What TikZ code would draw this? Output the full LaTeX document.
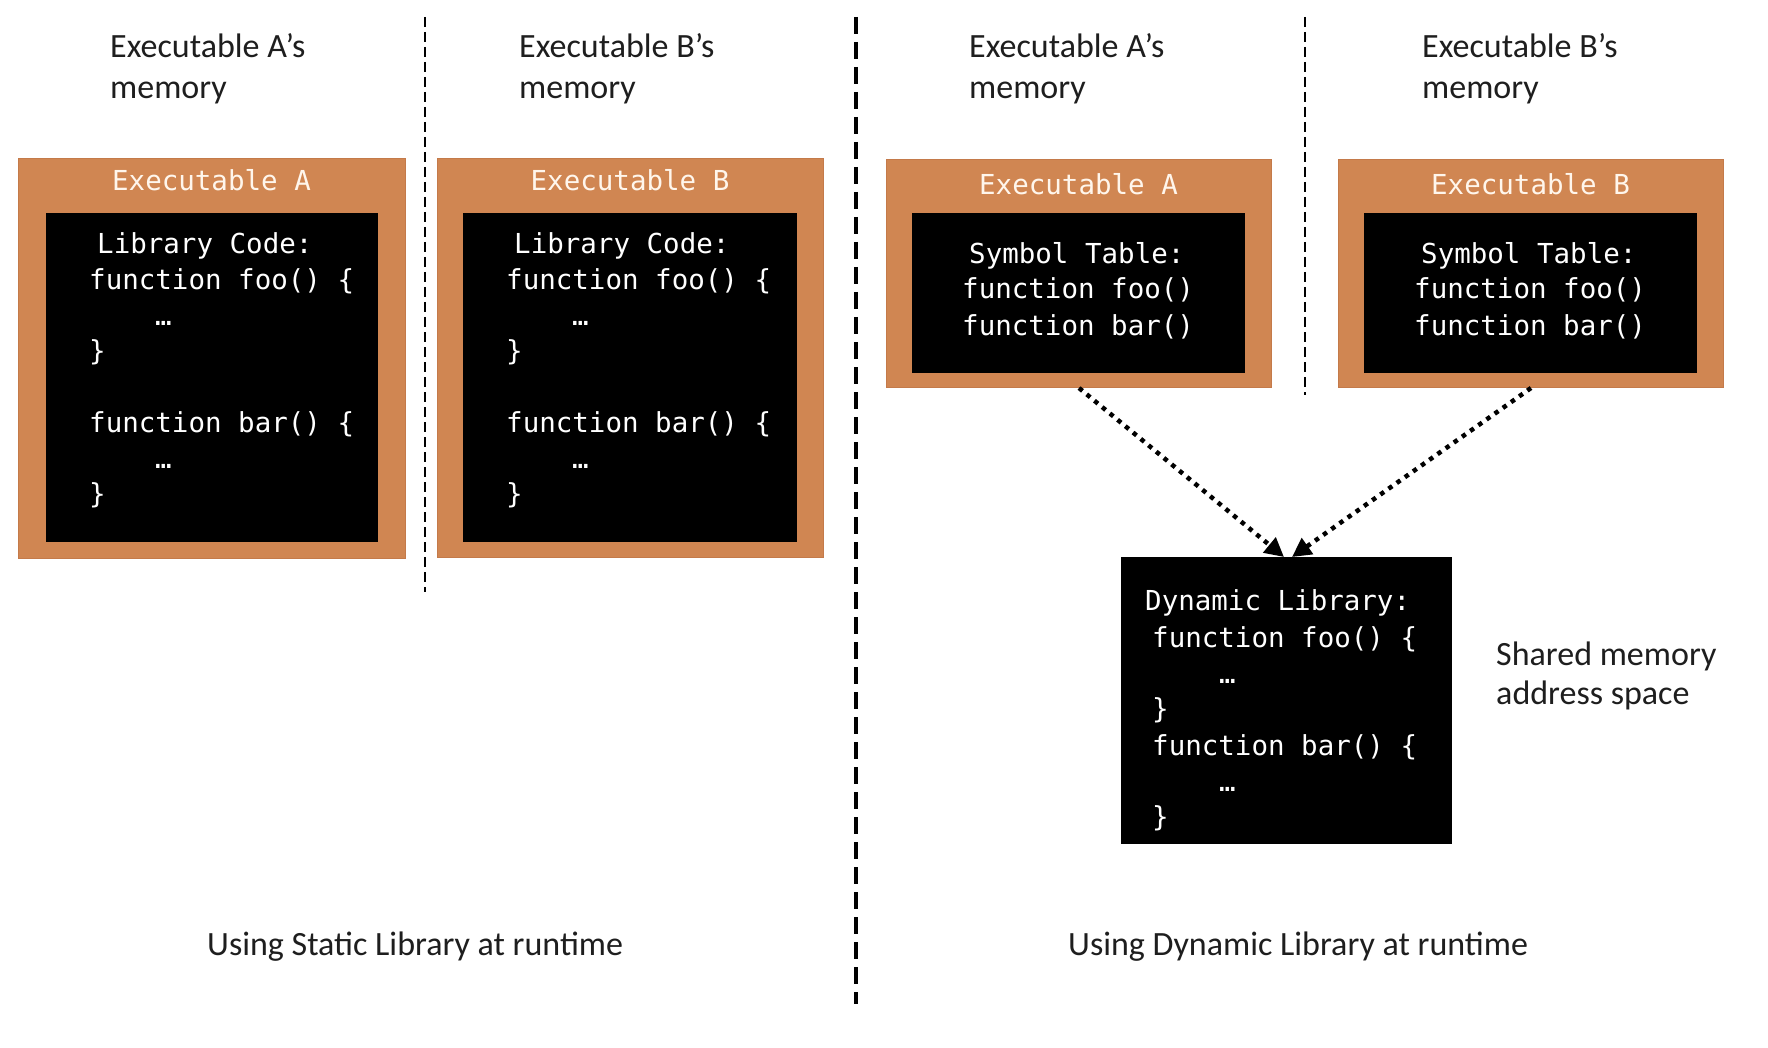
\documentclass[tikz,border=0pt]{standalone}
\usepackage{fontspec}
\setmainfont{Carlito}
\newfontfamily\codefont{DejaVu Sans Mono}
\usetikzlibrary{arrows.meta}
\definecolor{boxorange}{RGB}{208,134,82}
\definecolor{boxedge}{RGB}{196,122,74}
\definecolor{titlewhite}{RGB}{255,246,236}
\definecolor{labelgray}{RGB}{30,30,30}
\begin{document}
\begin{tikzpicture}[x=1pt,y=-1pt,
  obox/.style={fill=boxorange,draw=boxedge,line width=1pt,anchor=north west,inner sep=0pt},
  bbox/.style={fill=black,draw=none,anchor=north west,inner sep=0pt},
  code/.style={font=\codefont\fontsize{27.5}{31}\selectfont,text=white,anchor=base west,inner sep=0pt},
  ctitle/.style={font=\codefont\fontsize{27.5}{31}\selectfont,text=titlewhite,anchor=base,inner sep=0pt},
  lbl/.style={font=\fontsize{34}{40}\selectfont,text=labelgray,anchor=base west,inner sep=0pt},
  thindash/.style={line width=2pt,dash pattern=on 10pt off 5pt},
  thickdash/.style={line width=3.5pt,dash pattern=on 17pt off 8pt},
  dotarrow/.style={line width=4.5pt,dash pattern=on 4.5pt off 5.5pt,-{Triangle[length=19pt,width=19pt]}}
]
\useasboundingbox (0,0) rectangle (1768,1048);
\fill[white] (0,0) rectangle (1768,1048);

% ---------- divider lines ----------
\coordinate (d1t) at (425,17);  \coordinate (d1b) at (425,592);
\coordinate (d2t) at (856,17);  \coordinate (d2b) at (856,1004);
\coordinate (d3t) at (1305,17); \coordinate (d3b) at (1305,395);
\draw[thindash] (d1t) -- (d1b);
\draw[thickdash] (d2t) -- (d2b);
\draw[thindash] (d3t) -- (d3b);

% ---------- top labels ----------
\node[lbl] (la1) at (110,58) {Executable A’s};
\node[lbl] (la2) at (110,99) {memory};
\node[lbl] (lb1) at (519,58) {Executable B’s};
\node[lbl] (lb2) at (519,99) {memory};
\node[lbl] (ra1) at (969,58) {Executable A’s};
\node[lbl] (ra2) at (969,99) {memory};
\node[lbl] (rb1) at (1422,58) {Executable B’s};
\node[lbl] (rb2) at (1422,99) {memory};

% ---------- static: executable A ----------
\node[obox,minimum width=387pt,minimum height=400pt] (sA) at (18,158) {};
\node[ctitle] (sAt) at (211.5,191) {Executable A};
\node[bbox,minimum width=332pt,minimum height=329pt] (sAc) at (46,213) {};
\node[code] (sA1) at (97,254) {Library Code:};
\node[code] (sA2) at (89,290) {function foo() \{};
\node[code] (sA3) at (155,325) {…};
\node[code] (sA4) at (89,360) {\}};
\node[code] (sA5) at (89,432) {function bar() \{};
\node[code] (sA6) at (155,468) {…};
\node[code] (sA7) at (89,503) {\}};

% ---------- static: executable B ----------
\node[obox,minimum width=386pt,minimum height=399pt] (sB) at (437,158) {};
\node[ctitle] (sBt) at (630,191) {Executable B};
\node[bbox,minimum width=334pt,minimum height=329pt] (sBc) at (463,213) {};
\node[code] (sB1) at (514,254) {Library Code:};
\node[code] (sB2) at (506,290) {function foo() \{};
\node[code] (sB3) at (572,325) {…};
\node[code] (sB4) at (506,360) {\}};
\node[code] (sB5) at (506,432) {function bar() \{};
\node[code] (sB6) at (572,468) {…};
\node[code] (sB7) at (506,503) {\}};

% ---------- dynamic: executable A ----------
\node[obox,minimum width=385pt,minimum height=228pt] (dA) at (886,159) {};
\node[ctitle] (dAt) at (1078.5,195) {Executable A};
\node[bbox,minimum width=333pt,minimum height=160pt] (dAc) at (912,213) {};
\node[code] (dA1) at (969,264) {Symbol Table:};
\node[code] (dA2) at (962,299) {function foo()};
\node[code] (dA3) at (962,335) {function bar()};

% ---------- dynamic: executable B ----------
\node[obox,minimum width=385pt,minimum height=228pt] (dB) at (1338,159) {};
\node[ctitle] (dBt) at (1530.5,195) {Executable B};
\node[bbox,minimum width=333pt,minimum height=160pt] (dBc) at (1364,213) {};
\node[code] (dB1) at (1421,264) {Symbol Table:};
\node[code] (dB2) at (1414,299) {function foo()};
\node[code] (dB3) at (1414,335) {function bar()};

% ---------- dynamic library ----------
\node[bbox,minimum width=331pt,minimum height=287pt] (dyn) at (1121,557) {};
\node[code] (dy1) at (1145,610) {Dynamic Library:};
\node[code] (dy2) at (1152,647) {function foo() \{};
\node[code] (dy3) at (1219,683) {…};
\node[code] (dy4) at (1152,718) {\}};
\node[code] (dy5) at (1152,755) {function bar() \{};
\node[code] (dy6) at (1219,791) {…};
\node[code] (dy7) at (1152,826) {\}};

\node[lbl] (sh1) at (1496,665) {Shared memory};
\node[lbl] (sh2) at (1496,704) {address space};

% ---------- arrows ----------
\coordinate (tipA) at (1284,557);
\coordinate (tipB) at (1292,557);
\draw[dotarrow] (dA.south) -- (tipA);
\draw[dotarrow] (dB.south) -- (tipB);

% ---------- captions ----------
\node[lbl] (cap1) at (207,955) {Using Static Library at runtime};
\node[lbl] (cap2) at (1068,955) {Using Dynamic Library at runtime};
\end{tikzpicture}
\end{document}
